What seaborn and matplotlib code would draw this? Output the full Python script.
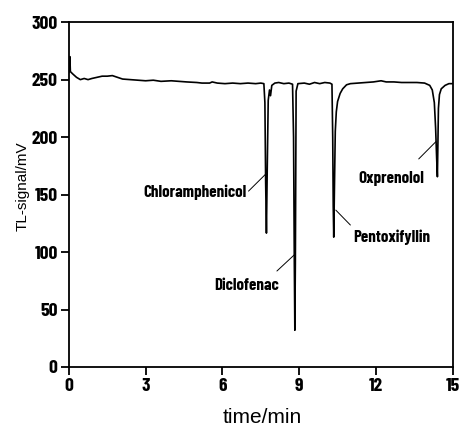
import matplotlib
matplotlib.use("Agg")
import matplotlib.pyplot as plt
import numpy as np
import pandas as pd
import seaborn as sns

sns.set_style("ticks")
plt.rcParams["text.color"] = "black"
plt.rcParams["axes.labelcolor"] = "black"

# chromatogram trace
time_min = [0.00, 0.04, 0.06, 0.15, 0.30, 0.45, 0.60, 0.75, 0.90, 1.10, 1.30, 1.50, 1.70,
            1.90, 2.10, 2.40, 2.70, 3.00, 3.30, 3.60, 4.00, 4.30, 4.60, 5.00, 5.20, 5.50,
            5.60, 5.80, 6.10, 6.40, 6.70, 7.00, 7.30, 7.50, 7.62,
            7.66, 7.69, 7.72, 7.75, 7.79, 7.84, 7.88, 7.93, 8.05, 8.20, 8.40, 8.60, 8.74,
            8.78, 8.81, 8.83, 8.85, 8.88, 8.95, 9.20, 9.40, 9.60, 9.80, 10.00, 10.20, 10.28,
            10.31, 10.33, 10.35, 10.38, 10.41, 10.45, 10.50, 10.60, 10.70, 10.85, 11.00,
            11.30, 11.60, 11.90, 12.20, 12.40, 12.70, 13.00, 13.30, 13.60, 13.90, 14.10,
            14.20, 14.28, 14.33, 14.37, 14.40, 14.42, 14.44, 14.48, 14.55, 14.70, 14.85, 15.00]
signal_mv = [256, 270, 257, 255, 252, 250, 251, 250, 251, 252, 253, 253, 253.5,
             252, 250.5, 250, 249.5, 249, 249.5, 248.5, 249, 248.5, 248, 247.5, 247, 247,
             248, 247, 246.5, 247, 246.5, 247, 246.5, 247, 246.5,
             230, 160, 116.5, 170, 232, 241, 236, 245, 247, 247.5, 246.5, 247, 246,
             200, 90, 32, 90, 240, 246.5, 247, 246, 247.5, 246.5, 247.5, 247, 246,
             200, 140, 113, 160, 205, 222, 231, 238, 242, 245.5, 246.5,
             247, 247.5, 248, 249, 248, 248, 247.5, 247.5, 247.5, 247, 245,
             241, 230, 208, 182, 165.5, 195, 225, 237, 242, 245, 246.5, 246.5]

# peak labels: text, text position, leader line from -> to
peak_names = ["Chloramphenicol", "Diclofenac", "Pentoxifyllin", "Oxprenolol"]
label_xy = [(6.95, 152), (6.95, 71), (12.6, 113), (12.58, 164)]
label_ha = ["right", "center", "center", "center"]
line_from = [(7.02, 153), (8.13, 83.5), (11.0, 123.5), (13.67, 181)]
line_to = [(7.70, 168), (8.83, 98), (10.43, 136.5), (14.34, 196)]

x_ticks = [0, 3, 6, 9, 12, 15]
y_ticks = [0, 50, 100, 150, 200, 250, 300]

df = pd.DataFrame({"time": time_min, "signal": signal_mv})

fig = plt.figure(figsize=(4.62, 4.26), dpi=100)
ax = fig.add_axes([0.149, 0.1385, 0.831, 0.8095])
sns.lineplot(data=df, x="time", y="signal", color="black", linewidth=1.2, ax=ax)

narrow = ["Barlow Condensed", "Roboto Condensed", "DejaVu Sans"]
for name, xy, ha, p0, p1 in zip(peak_names, label_xy, label_ha, line_from, line_to):
    ax.text(xy[0], xy[1], name, ha=ha, va="center", fontsize=12.2,
            fontweight="bold", family=narrow)
    ax.plot([p0[0], p1[0]], [p0[1], p1[1]], color="black", linewidth=0.7)

ax.set_xlim(0, 15)
ax.set_ylim(0, 300)
ax.set_xticks(x_ticks)
ax.set_yticks(y_ticks)
ax.set_xticklabels([str(v) for v in x_ticks], family=narrow, fontweight="bold", fontsize=14)
ax.set_yticklabels([str(v) for v in y_ticks], family=narrow, fontweight="bold", fontsize=14)
ax.tick_params(direction="out", length=6, width=1.3, pad=2, colors="black")
for s in ax.spines.values():
    s.set_linewidth(1.3)
    s.set_color("black")
ax.set_xlabel("time/min", fontsize=15, family=["Liberation Sans", "DejaVu Sans"])
ax.set_ylabel("TL-signal/mV", fontsize=11, family=["Liberation Sans", "DejaVu Sans"])
ax.xaxis.set_label_coords(0.505, -0.119)
ax.yaxis.set_label_coords(-0.102, 0.525)

fig.savefig("out.png", dpi=100)
